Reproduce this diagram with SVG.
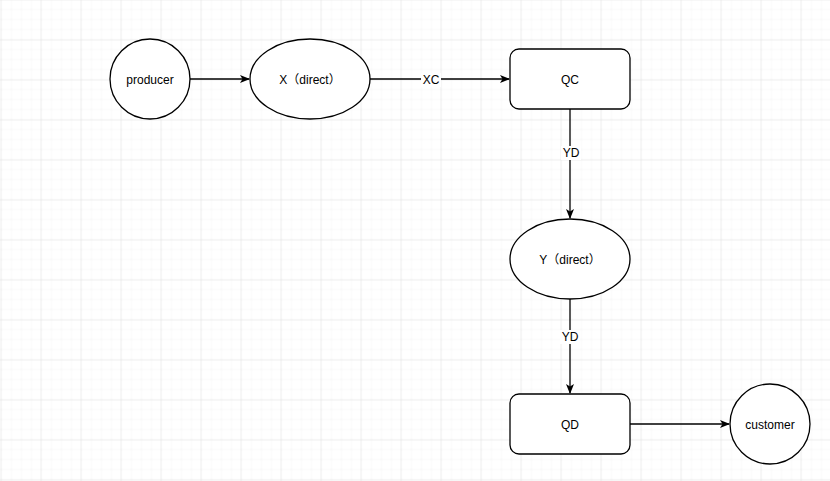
<svg xmlns="http://www.w3.org/2000/svg" width="830" height="481" viewBox="0 0 830 481">
<defs>
<pattern id="minor" width="10" height="10" patternUnits="userSpaceOnUse" x="0.5" y="-0.5">
<path d="M10 0 H0 V10" fill="none" stroke="#f1f1f1" stroke-width="1"/>
</pattern>
<pattern id="major" width="40" height="40" patternUnits="userSpaceOnUse" x="0.5" y="-0.5">
<rect width="40" height="40" fill="url(#minor)"/>
<path d="M40 0 H0 V40" fill="none" stroke="#e2e2e2" stroke-width="1"/>
</pattern>
<marker id="arr" viewBox="0 0 10 10" refX="9" refY="5" markerWidth="10" markerHeight="10" markerUnits="userSpaceOnUse" orient="auto">
<path d="M0 1 L10 5 L0 9 L2.5 5 Z" fill="#000"/>
</marker>
</defs>
<style>
.shape{fill:#fff;stroke:#000;stroke-width:1.3}
.t{font-family:"Liberation Sans","Noto Sans CJK SC",Arial,sans-serif;font-size:12px;fill:#000;text-anchor:middle;dominant-baseline:central}
.e{fill:none;stroke:#000;stroke-width:1.3}
.lbg{fill:#fff}
</style>
<rect width="830" height="481" fill="#fff"/>
<rect width="830" height="481" fill="url(#major)"/>
<g id="connectors">
<line class="e" x1="190" y1="79" x2="249" y2="79" marker-end="url(#arr)"/>
<line class="e" x1="370" y1="79" x2="509" y2="79" marker-end="url(#arr)"/>
<rect class="lbg" x="421" y="73" width="20" height="14"/>
<text class="t" x="431" y="80">XC</text>
<line class="e" x1="570" y1="109" x2="570" y2="218" marker-end="url(#arr)"/>
<rect class="lbg" x="561" y="146" width="20" height="14"/>
<text class="t" x="571" y="153">YD</text>
<line class="e" x1="570" y1="299" x2="570" y2="393" marker-end="url(#arr)"/>
<rect class="lbg" x="560" y="330" width="20" height="14"/>
<text class="t" x="570" y="337">YD</text>
<line class="e" x1="630" y1="424" x2="729" y2="424" marker-end="url(#arr)"/>
</g>
<g id="producer">
<circle class="shape" cx="150" cy="79" r="40"/>
<text class="t" x="150" y="80">producer</text>
</g>
<g id="x-direct">
<ellipse class="shape" cx="310" cy="79" rx="60" ry="40"/>
<text class="t" x="310" y="80">X（direct）</text>
</g>
<g id="qc">
<rect class="shape" x="510" y="49" width="120" height="60" rx="9"/>
<text class="t" x="570" y="80">QC</text>
</g>
<g id="y-direct">
<ellipse class="shape" cx="570" cy="259" rx="60" ry="40"/>
<text class="t" x="570" y="260">Y（direct）</text>
</g>
<g id="qd">
<rect class="shape" x="510" y="394" width="120" height="60" rx="9"/>
<text class="t" x="570" y="425">QD</text>
</g>
<g id="customer">
<circle class="shape" cx="770" cy="424" r="40"/>
<text class="t" x="770" y="425">customer</text>
</g>
</svg>
